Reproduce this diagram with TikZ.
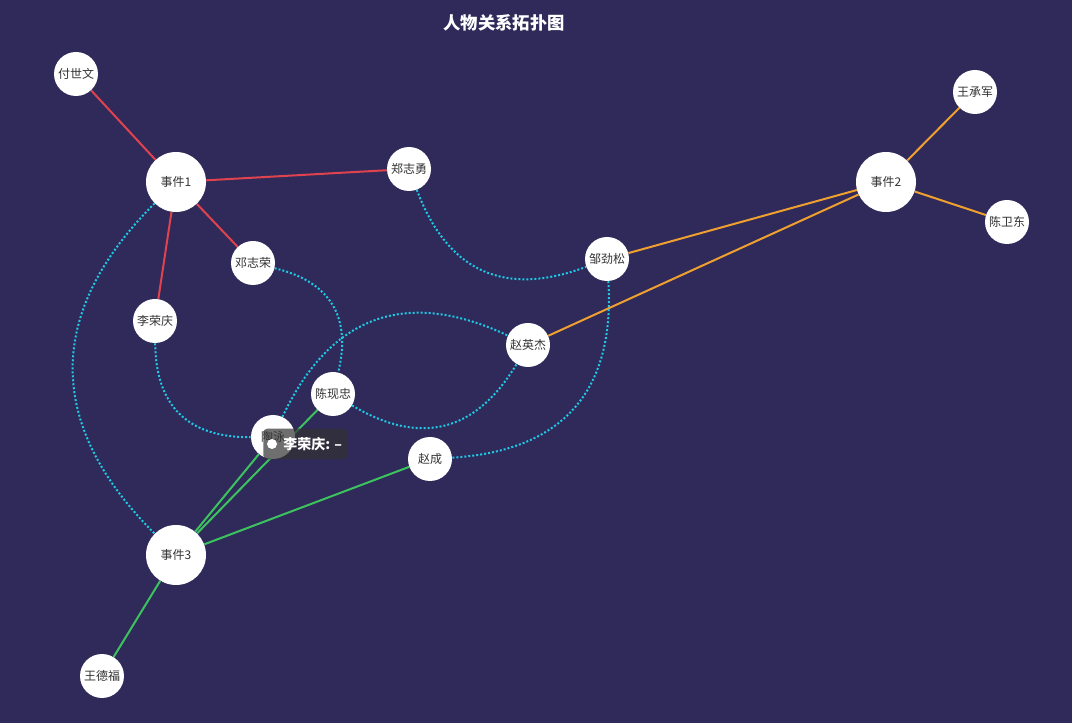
\documentclass[tikz,border=0pt]{standalone}
\usepackage{fontspec}
\setmainfont{Noto Sans CJK SC}
\usetikzlibrary{backgrounds}
\definecolor{bgnavy}{HTML}{2F2A5A}
\definecolor{linkred}{HTML}{E0424E}
\definecolor{linkorange}{HTML}{F0A02E}
\definecolor{linkgreen}{HTML}{3CC35E}
\definecolor{linkcyan}{HTML}{1FC8E3}
\definecolor{labelgray}{HTML}{333333}
\definecolor{tipgray}{HTML}{323232}
\tikzset{
  person/.style={circle, fill=white, inner sep=0pt, minimum size=33pt, text=labelgray, font=\fontsize{9}{10}\selectfont},
  event/.style={person, minimum size=45pt},
  redlink/.style={draw=linkred, line width=1.5pt},
  orangelink/.style={draw=linkorange, line width=1.5pt},
  greenlink/.style={draw=linkgreen, line width=1.5pt},
  rel/.style={draw=linkcyan, line width=1.5pt, dash pattern=on 1.5pt off 1.5pt, looseness=1.2},
  tipbox/.style={rounded corners=3pt, fill=tipgray, fill opacity=0.7, text opacity=1, text=white, minimum height=23pt, inner xsep=4pt, font=\fontsize{10.5}{12}\selectfont\bfseries},
  tipdot/.style={circle, fill=white, inner sep=0pt, minimum size=7.5pt}
}
\begin{document}
\begin{tikzpicture}[x=0.75pt, y=-0.75pt]
  \useasboundingbox (0,0) rectangle (1072,723);
  \node[text=white, font=\fontsize{13}{15}\selectfont\bfseries] (title) at (504,23) {人物关系拓扑图};

  % events
  \node[event] (e1) at (176,182) {事件1};
  \node[event] (e2) at (886,182) {事件2};
  \node[event] (e3) at (176,555) {事件3};

  % people
  \node[person] (fsw) at (76,74) {付世文};
  \node[person] (zzy) at (409,169) {郑志勇};
  \node[person] (dzr) at (253,263) {邓志荣};
  \node[person] (lrq) at (155,321) {李荣庆};
  \node[person] (cxz) at (333,394) {陈现忠};
  \node[person] (ty) at (273,437) {陶泳};
  \node[person] (zc) at (430,459) {赵成};
  \node[person] (wdf) at (102,676) {王德福};
  \node[person] (zjs) at (607,259) {邹劲松};
  \node[person] (zyj) at (528,345) {赵英杰};
  \node[person] (wcj) at (975,92) {王承军};
  \node[person] (cwd) at (1007,222) {陈卫东};

  \begin{scope}[on background layer]
    \fill[bgnavy] (0,0) rectangle (1072,723);
    \draw[redlink] (e1) -- (fsw);
    \draw[redlink] (e1) -- (zzy);
    \draw[redlink] (e1) -- (dzr);
    \draw[redlink] (e1) -- (lrq);
    \draw[orangelink] (e2) -- (wcj);
    \draw[orangelink] (e2) -- (cwd);
    \draw[orangelink] (e2) -- (zjs);
    \draw[orangelink] (e2) -- (zyj);
    \draw[greenlink] (e3) -- (wdf);
    \draw[greenlink] (e3) -- (zc);
    \draw[greenlink] (e3) -- (ty);
    \draw[greenlink] (e3) -- (cxz);
    % relations between people
    \draw[rel] (e1) to[bend right=45] (e3);
    \draw[rel] (zzy) to[bend right=45] (zjs);
    \draw[rel] (dzr) to[bend left=45] (cxz);
    \draw[rel] (lrq) to[bend right=45] (ty);
    \draw[rel] (ty) to[bend left=45] (zyj);
    \draw[rel] (cxz) to[bend right=45] (zyj);
    \draw[rel] (zjs) to[bend left=45] (zc);
  \end{scope}

  % tooltip
  \node[tipbox, anchor=west] (tip) at (263,444) {\hspace*{11pt}李荣庆: –};
  \node[tipdot] (tipd) at (272,444) {};
\end{tikzpicture}
\end{document}
